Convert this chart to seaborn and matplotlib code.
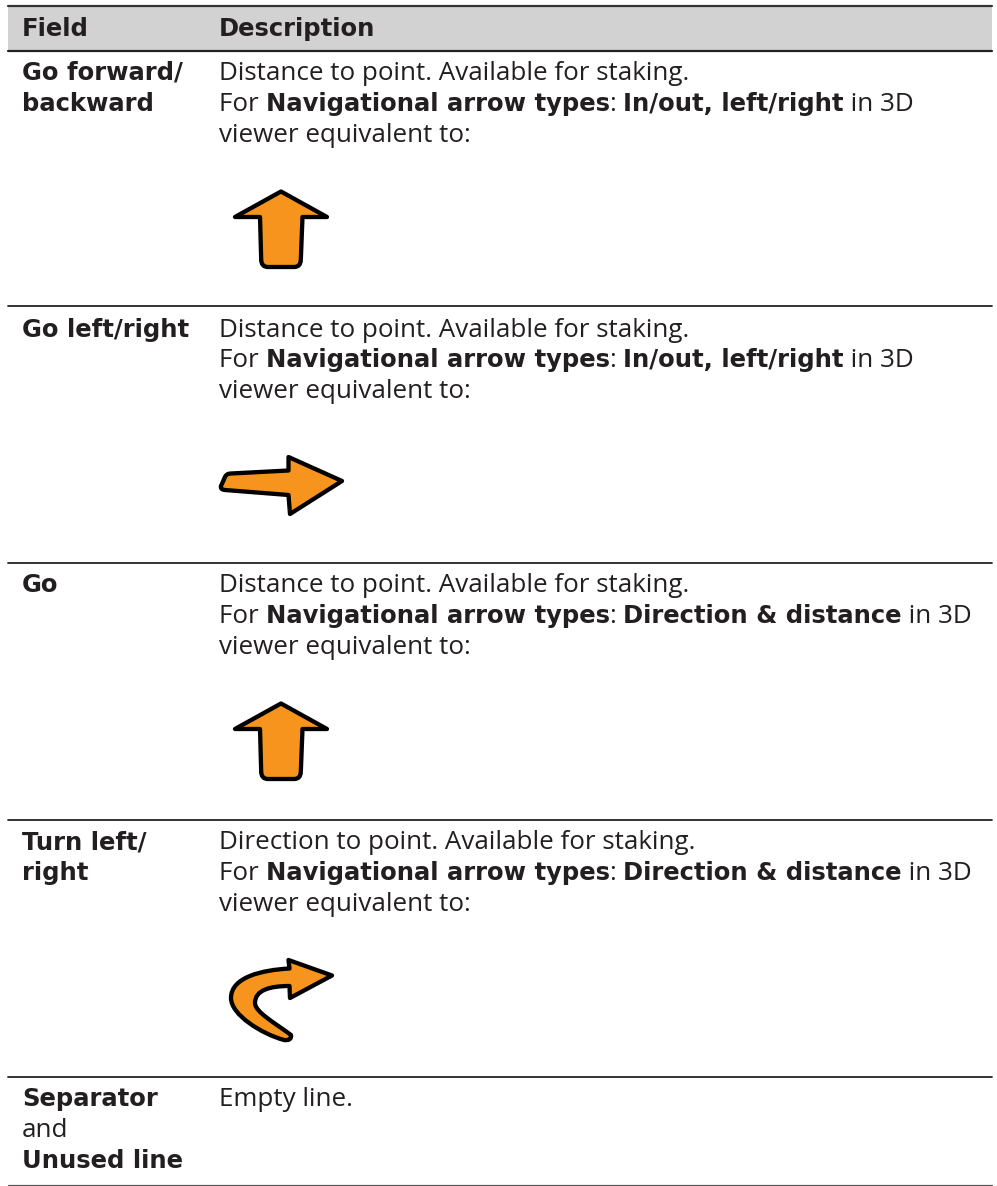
import matplotlib
matplotlib.use('Agg')
import matplotlib.pyplot as plt
from matplotlib.patches import PathPatch
from matplotlib.path import Path
import pandas as pd
import seaborn as sns

sns.set_theme(style='white')

W, H = 997, 1186
REG_PX = 26.05
BOLD_PX = 24.3
ORANGE = '#f7941d'
INK = '#231f20'
LEFT, RIGHT = 8, 992

# table rules: y position and line width in px
rule_y = [6, 51, 306, 563, 820, 1077, 1185]
rule_w = [2.2, 2.2, 1.8, 1.8, 1.8, 1.8, 1.2]
rule_c = ['#333333', '#222222', '#222222', '#222222', '#222222', '#222222', '#555555']

headers = [(22, 36, 'Field'), (219, 36, 'Description')]

# first column labels (x, baseline, text, bold)
field_lines = [
    (22, 80, 'Go forward/', True),
    (22, 111, 'backward', True),
    (22, 337, 'Go left/right', True),
    (22, 592, 'Go', True),
    (22, 849, 'Turn left/', True),
    (22, 880, 'right', True),
    (22, 1106, 'Separator', True),
    (22, 1137, 'and', False),
    (22, 1168, 'Unused line', True),
]

# description column, each line is a list of (text, bold) runs
desc_lines = [
    (80, [('Distance to point. Available for staking.', False)]),
    (111, [('For ', False), ('Navigational arrow types', True), (': ', False),
           ('In/out, left/right', True), (' in 3D', False)]),
    (142, [('viewer equivalent to:', False)]),
    (337, [('Distance to point. Available for staking.', False)]),
    (367, [('For ', False), ('Navigational arrow types', True), (': ', False),
           ('In/out, left/right', True), (' in 3D', False)]),
    (398, [('viewer equivalent to:', False)]),
    (592, [('Distance to point. Available for staking.', False)]),
    (623, [('For ', False), ('Navigational arrow types', True), (': ', False),
           ('Direction & distance', True), (' in 3D', False)]),
    (654, [('viewer equivalent to:', False)]),
    (849, [('Direction to point. Available for staking.', False)]),
    (880, [('For ', False), ('Navigational arrow types', True), (': ', False),
           ('Direction & distance', True), (' in 3D', False)]),
    (911, [('viewer equivalent to:', False)]),
    (1106, [('Empty line.', False)]),
]

# arrow outlines in px
up_verts = [(281, 191.5), (327, 217), (302.5, 217), (300.8, 260), (300.5, 267), (294, 267),
            (268, 267), (261.5, 267), (261.2, 260), (260, 217), (235, 217), (281, 191.5)]
up_codes = [Path.MOVETO, Path.LINETO, Path.LINETO, Path.LINETO, Path.CURVE3, Path.CURVE3,
            Path.LINETO, Path.CURVE3, Path.CURVE3, Path.LINETO, Path.LINETO, Path.CLOSEPOLY]
up_shift = 512

right_verts = [(342, 481), (288.5, 457), (288.5, 470.5), (231, 473.5), (226.5, 473.5), (225, 477),
               (221, 486), (220, 489.5), (225, 490), (288.5, 495), (290, 514), (342, 481)]
right_codes = [Path.MOVETO, Path.LINETO, Path.LINETO, Path.LINETO, Path.CURVE3, Path.CURVE3,
               Path.LINETO, Path.CURVE3, Path.CURVE3, Path.LINETO, Path.LINETO, Path.CLOSEPOLY]

turn_verts = [(332, 975.5), (288.5, 960), (289.5, 968.5),
              (262, 970), (231, 977), (231, 998),
              (231, 1015), (262, 1034), (284, 1040),
              (292, 1041), (291, 1035),
              (275, 1023), (255, 1012), (255, 1003),
              (255, 990), (270, 986), (289.5, 986),
              (290, 998), (332, 975.5)]
turn_codes = [Path.MOVETO, Path.LINETO, Path.LINETO,
              Path.CURVE4, Path.CURVE4, Path.CURVE4,
              Path.CURVE4, Path.CURVE4, Path.CURVE4,
              Path.CURVE3, Path.CURVE3,
              Path.CURVE4, Path.CURVE4, Path.CURVE4,
              Path.CURVE4, Path.CURVE4, Path.CURVE4,
              Path.LINETO, Path.CLOSEPOLY]

fig = plt.figure(figsize=(W / 100, H / 100), dpi=100)
ax = fig.add_axes([0, 0, 1, 1])

ax.axhspan(rule_y[0], rule_y[1], xmin=LEFT / W, xmax=RIGHT / W, color='#d2d2d2', lw=0, zorder=0)

rules = pd.DataFrame({'x': [LEFT, RIGHT] * len(rule_y),
                      'y': [y for y in rule_y for _ in range(2)],
                      'rule': [i for i in range(len(rule_y)) for _ in range(2)]})
for i, d in rules.groupby('rule'):
    sns.lineplot(data=d, x='x', y='y', color=rule_c[i], lw=rule_w[i] * 0.72, ax=ax,
                 estimator=None, legend=False)
ax.set_xlim(0, W)
ax.set_ylim(H, 0)
ax.axis('off')


def font_args(bold):
    if bold:
        return dict(family='DejaVu Sans', fontweight='bold', fontsize=BOLD_PX * 0.72)
    return dict(family='Open Sans', fontweight='normal', fontsize=REG_PX * 0.72)


def draw_runs(x, y, runs):
    r = fig.canvas.get_renderer()
    for s, bold in runs:
        ax.text(x, y, s, color=INK, va='baseline', ha='left', **font_args(bold))
        # trailing spaces are not measured, so measure with a guard char
        g = ax.text(0, 0, s + '|', **font_args(bold))
        g2 = ax.text(0, 0, '|', **font_args(bold))
        x += g.get_window_extent(r).width - g2.get_window_extent(r).width
        g.remove()
        g2.remove()


for x, y, s in headers:
    draw_runs(x, y, [(s, True)])
for x, y, s, bold in field_lines:
    draw_runs(x, y, [(s, bold)])
for y, runs in desc_lines:
    draw_runs(219, y, runs)

arrow_style = dict(fc=ORANGE, ec='black', lw=4.3 * 0.72, joinstyle='round', zorder=3)
ax.add_patch(PathPatch(Path(up_verts, up_codes), **arrow_style))
ax.add_patch(PathPatch(Path([(x, y + up_shift) for x, y in up_verts], up_codes), **arrow_style))
ax.add_patch(PathPatch(Path(right_verts, right_codes), **arrow_style))
ax.add_patch(PathPatch(Path(turn_verts, turn_codes), **arrow_style))

fig.savefig('out.png', dpi=100)
